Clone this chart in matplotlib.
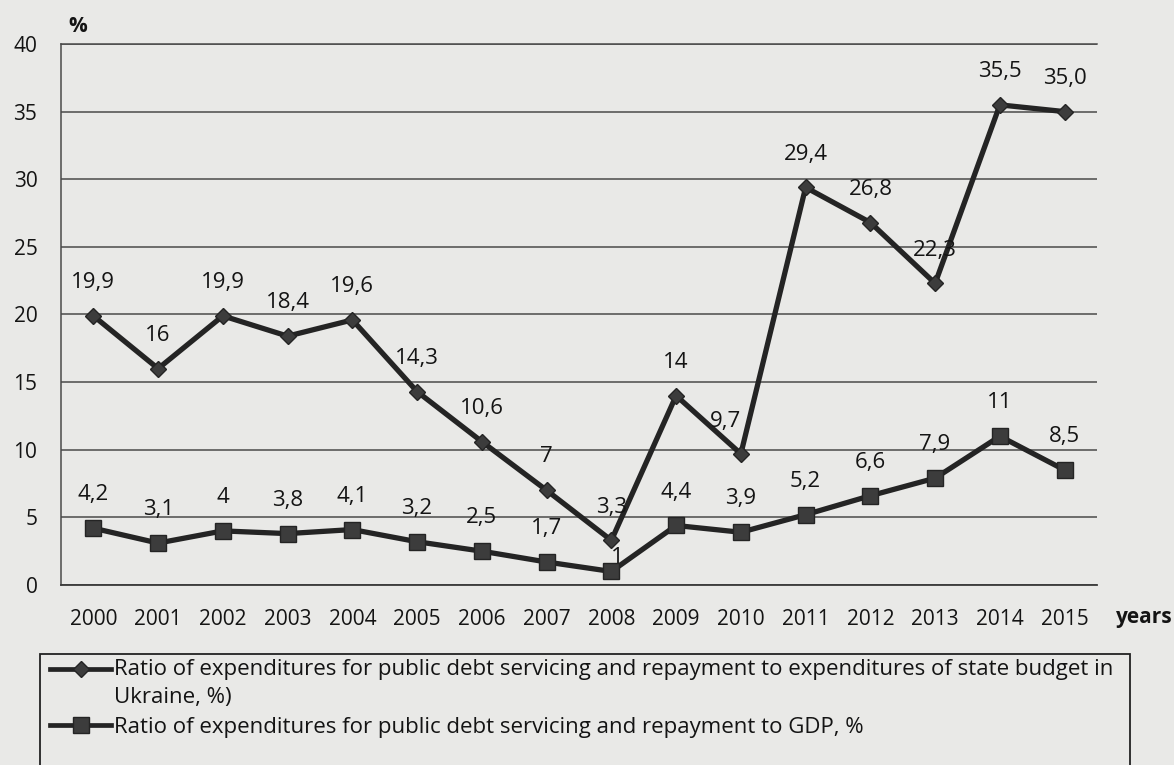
import numpy as np
import matplotlib
matplotlib.use("Agg")
import matplotlib.pyplot as plt
from matplotlib.legend_handler import HandlerLine2D
from matplotlib.patches import Rectangle

years = ["2000", "2001", "2002", "2003", "2004", "2005", "2006", "2007",
         "2008", "2009", "2010", "2011", "2012", "2013", "2014", "2015"]

# share of state budget expenditures, %
budget_share = [19.9, 16, 19.9, 18.4, 19.6, 14.3, 10.6, 7, 3.3, 14, 9.7,
                29.4, 26.8, 22.3, 35.5, 35.0]
budget_labels = ["19,9", "16", "19,9", "18,4", "19,6", "14,3", "10,6", "7",
                 "3,3", "14", "9,7", "29,4", "26,8", "22,3", "35,5", "35,0"]

# share of GDP, %
gdp_share = [4.2, 3.1, 4, 3.8, 4.1, 3.2, 2.5, 1.7, 1, 4.4, 3.9, 5.2, 6.6,
             7.9, 11, 8.5]
gdp_labels = ["4,2", "3,1", "4", "3,8", "4,1", "3,2", "2,5", "1,7", "1",
              "4,4", "3,9", "5,2", "6,6", "7,9", "11", "8,5"]

legend_names = [
    "Ratio of expenditures for public debt servicing and repayment to expenditures of state budget in\nUkraine, %)",
    "Ratio of expenditures for public debt servicing and repayment to GDP, %",
]

W, H = 1174, 765
bg = "#e9e9e7"
ink = "#141414"
line_col = "#242424"

plt.rcParams["font.family"] = ["Open Sans", "DejaVu Sans"]

fig = plt.figure(figsize=(W / 100, H / 100), dpi=100, facecolor=bg)
ax = fig.add_axes([61 / W, 1 - 585 / H, (1097 - 61) / W, (585 - 44) / H])
ax.set_facecolor(bg)

x = np.arange(len(years))
l1, = ax.plot(x, budget_share, color=line_col, lw=3.8, marker="D", ms=8.5,
              mfc="#3c3c3c", mec=line_col, mew=1, zorder=4)
l2, = ax.plot(x, gdp_share, color=line_col, lw=3.8, marker="s", ms=12,
              mfc="#3c3c3c", mec=line_col, mew=1, zorder=4)

# nudges for a few labels (points)
nudge1 = {10: (-11, 23)}
nudge2 = {8: (4, 10)}
for i in x:
    ax.annotate(budget_labels[i], (i, budget_share[i]),
                xytext=nudge1.get(i, (0, 24)), textcoords="offset points",
                ha="center", va="center", fontsize=16, color=ink, zorder=5)
    ax.annotate(gdp_labels[i], (i, gdp_share[i]),
                xytext=nudge2.get(i, (0, 24)), textcoords="offset points",
                ha="center", va="center", fontsize=16, color=ink, zorder=5)

ax.set_xlim(-0.5, len(years) - 0.5)
ax.set_ylim(0, 40)
ax.set_yticks(range(0, 41, 5))
ax.set_xticks(x)
ax.set_xticklabels(years)
ax.tick_params(length=0, labelsize=15, colors=ink)
ax.tick_params(axis="y", pad=17)
ax.tick_params(axis="x", pad=17)
ax.grid(axis="y", color="#4a4a4a", lw=1.1)
ax.set_axisbelow(True)
ax.spines["right"].set_visible(False)
ax.spines["top"].set_color("#4a4a4a")
ax.spines["top"].set_linewidth(1.1)
ax.spines["left"].set_color("#4a4a4a")
ax.spines["left"].set_linewidth(1.1)
ax.spines["bottom"].set_color("#3a3a3a")
ax.spines["bottom"].set_linewidth(1.3)

fig.text(68 / W, 1 - 26 / H, "%", fontsize=15, weight="bold", color=ink,
         ha="left", va="center")
fig.text(1173 / W, 1 - 618 / H, "years", fontsize=15, weight="bold",
         color=ink, ha="right", va="center")


class TopLine(HandlerLine2D):
    # put the handle on the first text line of a wrapped label
    def create_artists(self, legend, orig_handle, xdescent, ydescent, width,
                       height, fontsize, trans):
        arts = super().create_artists(legend, orig_handle, xdescent, ydescent,
                                      width, height, fontsize, trans)
        n = orig_handle.get_label().count("\n")
        for a in arts:
            a.set_ydata(np.asarray(a.get_ydata()) + n * 0.66 * fontsize)
        return arts


l1.set_label(legend_names[0])
l2.set_label(legend_names[1])
leg = fig.legend(handles=[l1, l2], loc="upper left",
                 bbox_to_anchor=(50 / W, 1 - 659 / H), frameon=False,
                 fontsize=16, handlelength=2.75, handletextpad=0.15,
                 borderpad=0, borderaxespad=0, labelspacing=0.4,
                 handler_map={l1: TopLine(), l2: TopLine()})
for t in leg.get_texts():
    t.set_color(ink)
    t.set_linespacing(1.42)
for h in leg.legend_handles:
    h.set_linewidth(3.4)

fig.add_artist(Rectangle((40 / W, -0.1), (1130 - 40) / W, 0.1 + 1 - 654 / H,
                         transform=fig.transFigure, fill=False,
                         edgecolor="#222222", lw=1.3))

fig.savefig("out.png", dpi=100, facecolor=bg)
